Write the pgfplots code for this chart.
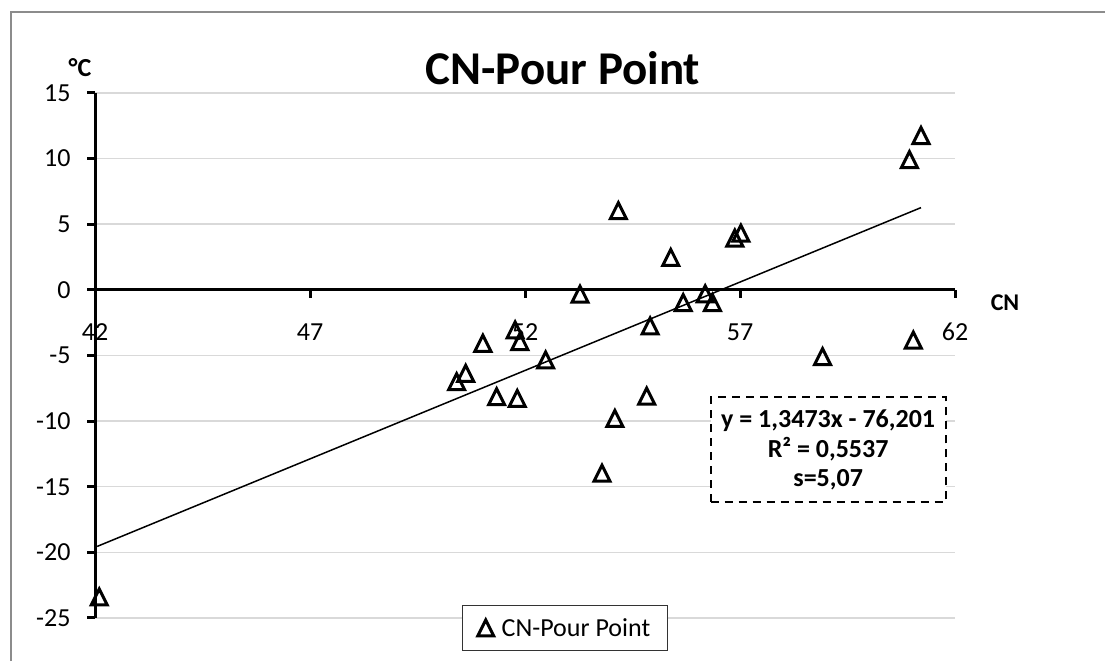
\documentclass[border=0pt]{standalone}
\usepackage{pgfplots}
\pgfplotsset{compat=1.18}
\usepackage{fontspec}
\setmainfont{Carlito}

% open triangle marker, as wide as it is tall
\pgfdeclareplotmark{otri}{%
  \pgfpathmoveto{\pgfqpoint{0pt}{\pgfplotmarksize}}%
  \pgfpathlineto{\pgfqpoint{\pgfplotmarksize}{-\pgfplotmarksize}}%
  \pgfpathlineto{\pgfqpoint{-\pgfplotmarksize}{-\pgfplotmarksize}}%
  \pgfpathclose
  \pgfusepathqstroke}

\definecolor{gridgray}{HTML}{D9D9D9}
\definecolor{framegray}{HTML}{8C8C8C}

\begin{document}
\begin{tikzpicture}[x=1pt,y=1pt]
  \path[use as bounding box] (0,0) rectangle (1105,661);
  % chart area frame
  \draw[framegray, line width=2pt] (11,0) -- (11,648.5) -- (1105,648.5);

  \begin{axis}[
    at={(95pt,43pt)}, anchor=south west,
    scale only axis, width=860pt, height=525pt,
    xmin=42, xmax=62, ymin=-25, ymax=15,
    axis x line=middle, axis y line=left,
    axis line style={line width=3pt, -},
    hide obscured x ticks=false,
    xtick={42,47,52,57,62},
    xticklabels={42,47,52,57,62},
    ytick={-25,-20,-15,-10,-5,0,5,10,15},
    yticklabels={-25,-20,-15,-10,-5,0,5,10,15},
    tick align=outside,
    major tick length=8pt,
    tick style={line width=3pt, black},
    ymajorgrids, grid style={gridgray, line width=1.5pt},
    /pgf/number format/assume math mode=true,
    tick label style={font=\fontsize{26}{30}\selectfont},
    x tick label style={anchor=center, yshift=-34pt},
    y tick label style={anchor=east, xshift=-13pt},
    clip=false,
    legend style={at={(0.5465,-0.019)}, anchor=center,
      draw=black!80, line width=1pt, fill=white,
      font=\fontsize{26}{30}\selectfont,
      inner xsep=15pt, inner ysep=11pt},
    legend image code/.code={\draw[#1] plot coordinates {(0.2cm,0cm)};},
    legend cell align=left,
  ]
    \addplot[only marks, mark=otri, mark size=8pt,
      mark options={line width=3pt, black}]
      coordinates {
      (42.10,-23.40) (50.41,-7.00) (50.62,-6.36) (51.02,-4.07)
      (51.34,-8.14) (51.77,-3.05) (51.88,-3.94) (51.82,-8.27)
      (52.48,-5.34) (53.28,-0.33) (53.79,-13.97) (54.09,-9.80)
      (54.17,6.03) (54.83,-8.10) (54.91,-2.75) (55.39,2.47)
      (55.68,-0.97) (56.19,-0.31) (56.36,-0.97) (56.88,3.94)
      (57.02,4.32) (58.92,-5.09) (60.94,9.92) (61.03,-3.82)
      (61.21,11.76)};
    \addlegendentry{\hspace{6pt}CN-Pour Point}

    % linear trend: y = 1.3473x - 76.201
    \addplot[black, line width=1.5pt, forget plot]
      coordinates {(42.05,-19.547) (61.21,6.267)};

    \node[draw=black, line width=2pt, dash pattern=on 8pt off 6pt,
      fill=white, minimum width=235pt, minimum height=105pt,
      align=center, font=\bfseries\fontsize{26}{29.5}\selectfont]
      at (axis cs:59.05,-12.2)
      {y = 1,3473x - 76,201\\R² = 0,5537\\s=5,07};
  \end{axis}

  \node[font=\bfseries\fontsize{47}{50}\selectfont] at (563,593) {CN-Pour Point};
  \node[font=\bfseries\fontsize{26}{28}\selectfont] at (80,593) {°C};
  \node[font=\bfseries\fontsize{24}{28}\selectfont] at (1005,358) {CN};
\end{tikzpicture}
\end{document}
